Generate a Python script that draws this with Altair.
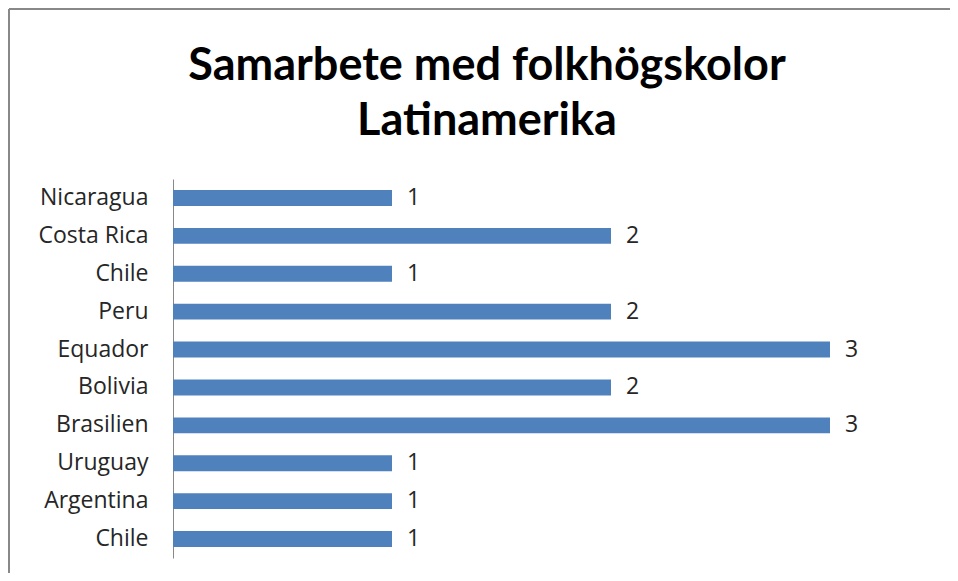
import altair as alt
import pandas as pd

countries = ["Chile", "Argentina", "Uruguay", "Brasilien", "Bolivia",
             "Equador", "Peru", "Chile", "Costa Rica", "Nicaragua"]
values = [1, 1, 1, 3, 2, 3, 2, 1, 2, 1]
title_lines = ["Samarbete med folkhögskolor", "Latinamerika"]

df = pd.DataFrame({"idx": list(range(len(countries))), "country": countries, "value": values})
label_arr = "[" + ",".join("'" + c + "'" for c in countries) + "]"

FONT = "Open Sans"
TFONT = "Lato"

y_enc = alt.Y("idx:O", sort="descending", title=None,
              scale=alt.Scale(paddingInner=0.58, paddingOuter=0.29),
              axis=alt.Axis(labelExpr=label_arr + "[datum.value]", ticks=False,
                            domainColor="#888888", domainWidth=1,
                            labelFont=FONT, labelFontSize=23, labelColor="#262626",
                            labelPadding=25))
x_enc = alt.X("value:Q", scale=alt.Scale(domain=[0, 3]), axis=None)

bars = alt.Chart(df).mark_bar(color="#4F81BD").encode(x=x_enc, y=y_enc)
texts = alt.Chart(df).mark_text(align="left", dx=15, font=FONT, fontSize=23,
                                color="#262626").encode(x=x_enc, y=y_enc, text="value:Q")

title_df = pd.DataFrame({"line": title_lines, "ypos": [-99, -44]})
title = alt.Chart(title_df).mark_text(font=TFONT, fontSize=45, fontWeight="bold",
                                      color="black", align="center",
                                      baseline="alphabetic").encode(
    x=alt.value(314), y=alt.Y("ypos:Q", scale=None), text="line:N")

frame = pd.DataFrame({"a": [0]})
left_line = alt.Chart(frame).mark_rule(color="#888888", strokeWidth=2).encode(
    x=alt.value(-164), y=alt.value(-170), y2=alt.value(600))
top_line = alt.Chart(frame).mark_rule(color="#888888", strokeWidth=2).encode(
    x=alt.value(-164), x2=alt.value(900), y=alt.value(-170))

chart = alt.layer(bars, texts, title, left_line, top_line).properties(
    width=657, height=379,
    autosize="none",
    padding={"left": 165, "top": 171, "right": 120, "bottom": 15},
    background="white",
).configure_view(strokeWidth=0)

chart.save("out.html", embed_options={"renderer": "svg", "actions": False})
